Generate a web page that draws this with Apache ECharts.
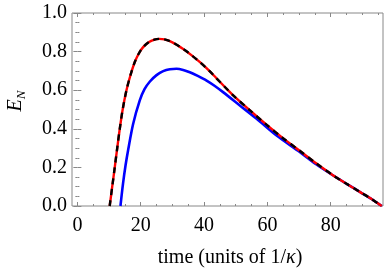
<!DOCTYPE html>
<html><head><meta charset="utf-8">
<script src="https://cdn.jsdelivr.net/npm/echarts@6/dist/echarts.min.js"></script>
<style>html,body{margin:0;padding:0;background:#fff}#c{width:388px;height:277px}</style>
</head><body><div id="c"></div>
<script>
const xBlack = [10.2, 11.0, 11.8, 12.5, 13.3, 14.3, 15.5, 16.8, 18.1, 19.4, 20.7, 22.5, 24.3, 25.8, 27.5, 30.0, 33.4, 36.0, 38.7, 41.5, 43.9, 46.5, 49.2, 54.5, 59.8, 64.5, 70.3, 75.5, 80.8, 85.0, 89.3, 93.0, 96.1];
const yBlack = [0, 0.10, 0.20, 0.29, 0.39, 0.50, 0.60, 0.68, 0.745, 0.79, 0.822, 0.848, 0.862, 0.866, 0.863, 0.848, 0.814, 0.782, 0.745, 0.703, 0.662, 0.618, 0.573, 0.495, 0.42, 0.357, 0.285, 0.22, 0.158, 0.115, 0.072, 0.035, 0];
const xBlue = [13.6, 14.4, 15.2, 16.0, 17.6, 19.7, 21.2, 22.9, 25.0, 27.1, 29.2, 31.3, 33.4, 35.5, 38.0, 40.8, 43.4, 46.0, 51.3, 56.6, 62.9, 70.3, 75.5, 80.8, 85.0, 89.3, 93.0, 96.1];
const yBlue = [0, 0.115, 0.21, 0.288, 0.425, 0.547, 0.605, 0.645, 0.678, 0.699, 0.709, 0.711, 0.705, 0.693, 0.674, 0.65, 0.622, 0.59, 0.521, 0.452, 0.365, 0.279, 0.215, 0.158, 0.115, 0.072, 0.035, 0];
const xMajor = [0, 20, 40, 60, 80];
const xMinor = [5, 10, 15, 25, 30, 35, 45, 50, 55, 65, 70, 75, 85, 90, 95];
const xTitle = 'time (units of 1/κ)';
const yTitle = 'E_N';

const pairs = (xs, ys) => xs.map((x, i) => [x, ys[i]]);
const XMIN = -1.7, XMAX = 96.5;
const frame = '#888';
const font = 'Liberation Serif';

function xAx(pos, vals, len, labels) {
  return {
    type: 'value', min: XMIN, max: XMAX, position: pos,
    axisLine: {show: false}, splitLine: {show: false},
    axisTick: {show: true, inside: true, length: len, customValues: vals, lineStyle: {color: frame, width: 1}},
    axisLabel: labels ? {show: true, customValues: xMajor, color: '#000', fontFamily: font, fontSize: 20, margin: 10} : {show: false}
  };
}
function yAx(pos, labels) {
  return {
    type: 'value', min: 0, max: 1, interval: 0.2, position: pos,
    axisLine: {show: false}, splitLine: {show: false},
    axisTick: {show: true, inside: true, length: 4, lineStyle: {color: frame, width: 1}},
    minorTick: {show: true, splitNumber: 4, length: 2, lineStyle: {color: frame, width: 1}},
    axisLabel: labels ? {show: true, color: '#000', fontFamily: font, fontSize: 20, margin: 5, formatter: v => v.toFixed(1)} : {show: false}
  };
}

const chart = echarts.init(document.getElementById('c'), null, {renderer: 'canvas'});
chart.setOption({
  animation: false,
  grid: {left: 72, top: 13, width: 311, height: 193, show: true, borderColor: frame, borderWidth: 1, backgroundColor: 'transparent'},
  xAxis: [xAx('bottom', xMajor, 4, true), xAx('bottom', xMinor, 2, false), xAx('top', xMajor, 4, false), xAx('top', xMinor, 2, false)],
  yAxis: [yAx('left', true), yAx('right', false)],
  series: [
    {type: 'line', data: pairs(xBlue, yBlue), showSymbol: false, smooth: 0.3, lineStyle: {color: '#0000ff', width: 2.6}, z: 2},
    {type: 'line', data: pairs(xBlack, yBlack), showSymbol: false, smooth: 0.3, lineStyle: {color: '#ff0000', width: 2.4}, z: 3},
    {type: 'line', data: pairs(xBlack, yBlack), showSymbol: false, smooth: 0.3, lineStyle: {color: '#000000', width: 2.4, type: [6, 5]}, z: 4}
  ],
  graphic: [
    {type: 'text', x: 230, y: 258, style: {text: '{a|time (units of 1/}{k|κ}{a|)}', align: 'center', verticalAlign: 'middle',
      rich: {a: {fontFamily: font, fontSize: 20, fill: '#000'}, k: {fontFamily: font, fontSize: 20, fontStyle: 'italic', fill: '#000'}}}},
    {type: 'text', x: 16, y: 101, rotation: Math.PI / 2, style: {text: '{e|' + yTitle.split('_')[0] + '}{n|' + yTitle.split('_')[1] + '}', align: 'center', verticalAlign: 'middle',
      rich: {e: {fontFamily: font, fontSize: 20, fontStyle: 'italic', fill: '#000', lineHeight: 24}, n: {fontFamily: font, fontSize: 13, fontStyle: 'italic', fill: '#000', verticalAlign: 'bottom', lineHeight: 14}}}}
  ]
});
</script></body></html>
